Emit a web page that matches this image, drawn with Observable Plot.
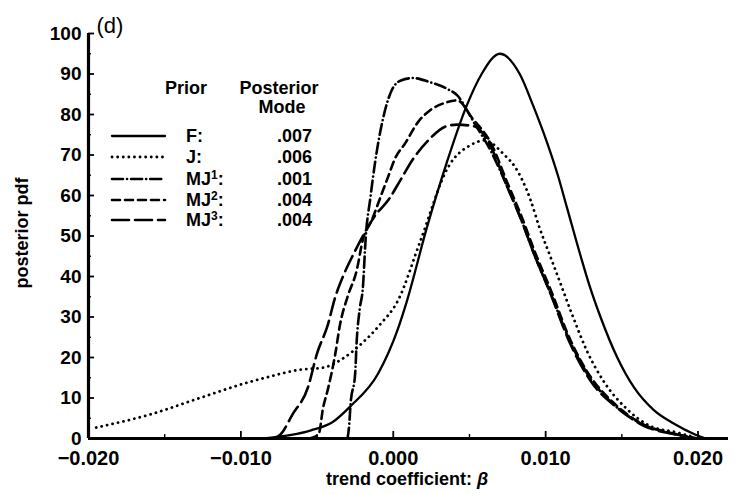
<!DOCTYPE html>
<html>
<head>
<meta charset="utf-8">
<script src="https://cdn.jsdelivr.net/npm/d3@7"></script>
<script src="https://cdn.jsdelivr.net/npm/@observablehq/plot@0.6"></script>
<style>
  html, body { margin: 0; padding: 0; background: #fff; }
  #chart { width: 736px; height: 494px; }
  svg text { font-family: "Liberation Sans", Arial, sans-serif; }
</style>
</head>
<body>
<div id="chart"></div>
<script>
// ---- data ----
const priors = ["F", "J", "MJ1", "MJ2", "MJ3"];
const priorNames = ["F", "J", "MJ", "MJ", "MJ"];
const priorSup = ["", "", "1", "2", "3"];
const posteriorModes = [".007", ".006", ".001", ".004", ".004"];

const xF = [-0.0085, -0.0054, -0.004, -0.0028, -0.001, 0.0003, 0.0009, 0.0022, 0.0035, 0.0048, 0.0058, 0.007, 0.0083, 0.0092, 0.0101, 0.0108, 0.0114, 0.0123, 0.0129, 0.0136, 0.0147, 0.0158, 0.0171, 0.0184, 0.0198, 0.0205];
const yF = [0, 2, 4, 8, 16, 27, 34, 52, 68, 82, 90, 95, 90, 82, 73, 65, 57, 45, 37.5, 30, 20, 12.6, 7, 3.7, 1, 0];

const xJ = [-0.0195, -0.0159, -0.0127, -0.0094, -0.0084, -0.0061, -0.0046, -0.0035, -0.002, -0.0009, 0.0003, 0.0018, 0.0036, 0.0051, 0.006, 0.0073, 0.008, 0.009, 0.0096, 0.0103, 0.011, 0.0118, 0.0127, 0.0139, 0.0153, 0.0168, 0.0186, 0.0196];
const yJ = [2.7, 6, 10, 14, 15, 17, 17.5, 19.3, 23.7, 28, 34, 49, 67, 72.5, 73.6, 70, 67, 59, 52, 45, 38, 30, 21.7, 13.6, 7.4, 3.2, 1.5, 0.5];

const xMJ1 = [-0.003, -0.0029, -0.0028, -0.0025, -0.0024, -0.0022, -0.002, -0.0018, -0.0015, -0.0012, -0.0007, -0.0001, 0.0005, 0.0013, 0.0024, 0.0035, 0.0042, 0.0053, 0.0064, 0.0075, 0.0084, 0.0093, 0.0103, 0.0116, 0.0129, 0.0144, 0.0164, 0.0184, 0.02];
const yMJ1 = [0, 3, 8.6, 16, 24, 32, 37, 50, 59.5, 68, 78.5, 86, 88.4, 89, 88, 86.4, 84.7, 78, 71, 62, 54, 45, 36, 24, 15, 8.6, 3.4, 1.2, 0];

const xMJ2 = [-0.0055, -0.0049, -0.0046, -0.0043, -0.0038, -0.0035, -0.003, -0.0024, -0.002, -0.0014, -0.0008, -0.0003, 0.0001, 0.0008, 0.0016, 0.0024, 0.0035, 0.0042, 0.0052, 0.0064, 0.0075, 0.0084, 0.0093, 0.0103, 0.0116, 0.0129, 0.0144, 0.0164, 0.0184, 0.0198];
const yMJ2 = [0, 1, 7.7, 12, 21, 28, 35, 41.5, 49, 54, 60, 65, 69, 73, 78, 81, 83, 83.5, 79, 73, 63, 55, 46, 37, 24.5, 15.5, 9, 3.5, 1.2, 0];

const xMJ3 = [-0.0078, -0.0074, -0.0066, -0.0056, -0.005, -0.0043, -0.0038, -0.0033, -0.0026, -0.0012, -0.0003, 0.0005, 0.0013, 0.0024, 0.0034, 0.0042, 0.0054, 0.0064, 0.0075, 0.0084, 0.0093, 0.0103, 0.0116, 0.0129, 0.0149, 0.0164, 0.0184, 0.0198];
const yMJ3 = [0, 1, 6, 12.6, 21, 28, 35, 40, 45.6, 55, 59, 64, 69, 74, 77, 77.5, 77, 72, 62, 54, 45, 36, 23.5, 14.5, 7, 3.2, 1.1, 0];

const xTicks = [-0.02, -0.01, 0, 0.01, 0.02];
const xMinorTicks = [-0.015, -0.005, 0.005, 0.015];
const yTicks = [0, 10, 20, 30, 40, 50, 60, 70, 80, 90, 100];
const yMinorTicks = [5, 15, 25, 35, 45, 55, 65, 75, 85, 95];

// ---- build table ----
const seriesX = [xF, xJ, xMJ1, xMJ2, xMJ3];
const seriesY = [yF, yJ, yMJ1, yMJ2, yMJ3];
const curves = priors.map((p, i) => seriesX[i].map((x, j) => ({prior: p, x, y: seriesY[i][j]})));

const styles = {
  F:   {dash: null, width: 2.3},
  J:   {dash: "0.1 5.5", width: 2.8},
  MJ1: {dash: "11 4 0.1 4", width: 2.6},
  MJ2: {dash: "8 5", width: 2.6},
  MJ3: {dash: "17 6", width: 2.6}
};

const W = 736, H = 494, ML = 88, MR = 8, MT = 33, MB = 56;
const frameW = W - ML - MR, frameH = H - MT - MB;

const fmtX = d => (d < 0 ? "\u2212" : "") + Math.abs(d).toFixed(3);

const marks = [
  // inward tick marks (short ticks hugging the axis lines)
  Plot.tickX(xTicks, {x: d => d, insetTop: frameH - 7, strokeWidth: 1.8}),
  Plot.tickX(xMinorTicks, {x: d => d, insetTop: frameH - 4, strokeWidth: 1.4}),
  Plot.tickY(yTicks, {y: d => d, insetRight: frameW - 6, strokeWidth: 1.8}),
  Plot.tickY(yMinorTicks, {y: d => d, insetRight: frameW - 3, strokeWidth: 1.4}),
  // tick labels
  Plot.axisX({ticks: xTicks, tickFormat: fmtX, tickSize: 0, tickPadding: 12, fontSize: 20, fontWeight: "bold", label: null}),
  Plot.axisY({ticks: yTicks, tickSize: 0, tickPadding: 7, fontSize: 19, fontWeight: "bold", label: null}),
  // axis lines
  Plot.ruleX([-0.02], {y1: 0, y2: 100, strokeWidth: 3.2}),
  Plot.ruleY([0], {strokeWidth: 3.2}),
  // curves
  ...curves.map((c, i) => Plot.line(c, {
    x: "x", y: "y", curve: "monotone-x", stroke: "black",
    strokeWidth: styles[priors[i]].width,
    strokeDasharray: styles[priors[i]].dash,
    strokeLinecap: "round"
  })),
  Plot.text(["(d)"], {x: -0.02, y: 100, text: d => d, dx: 8, dy: -1, textAnchor: "start", lineAnchor: "bottom", fontSize: 22})
];

const plot = Plot.plot({
  width: W,
  height: H,
  marginLeft: ML,
  marginRight: MR,
  marginTop: MT,
  marginBottom: MB,
  style: {fontFamily: "Liberation Sans, Arial, sans-serif", color: "black", background: "white", overflow: "visible"},
  x: {domain: [-0.02, 0.022], axis: null},
  y: {domain: [0, 100], axis: null},
  marks
});

document.getElementById("chart").appendChild(plot);

// ---- axis titles and legend ----
const svg = d3.select(plot);

svg.append("text")
  .attr("transform", "translate(28,233) rotate(-90)")
  .attr("text-anchor", "middle")
  .attr("font-size", 18)
  .attr("font-weight", "bold")
  .attr("fill", "black")
  .text("posterior pdf");

const xl = svg.append("text")
  .attr("x", 407).attr("y", 485)
  .attr("text-anchor", "middle")
  .attr("font-size", 18)
  .attr("font-weight", "bold")
  .attr("fill", "black");
xl.append("tspan").text("trend coefficient: ");
xl.append("tspan").attr("font-style", "italic").text("\u03B2");

const lg = svg.append("g").attr("font-weight", "bold").attr("font-size", 18).attr("fill", "black");
lg.append("text").attr("x", 165).attr("y", 94).attr("text-anchor", "start").text("Prior");
lg.append("text").attr("x", 279).attr("y", 94).attr("text-anchor", "middle").text("Posterior");
lg.append("text").attr("x", 282).attr("y", 113).attr("text-anchor", "middle").text("Mode");

const rowY = [136, 157, 179, 200, 220];
priors.forEach((p, i) => {
  const st = styles[p];
  lg.append("line")
    .attr("x1", 112).attr("x2", 165)
    .attr("y1", rowY[i]).attr("y2", rowY[i])
    .attr("stroke", "black")
    .attr("stroke-width", st.width)
    .attr("stroke-linecap", "round")
    .attr("stroke-dasharray", st.dash);
  const t = lg.append("text").attr("x", 186).attr("y", rowY[i] + 6).attr("text-anchor", "start");
  t.append("tspan").text(priorNames[i]);
  if (priorSup[i]) t.append("tspan").attr("font-size", 12).attr("dy", -6).text(priorSup[i]);
  t.append("tspan").attr("dy", priorSup[i] ? 6 : 0).text(":");
  lg.append("text").attr("x", 312).attr("y", rowY[i] + 6).attr("text-anchor", "end").text(posteriorModes[i]);
});
</script>
</body>
</html>
